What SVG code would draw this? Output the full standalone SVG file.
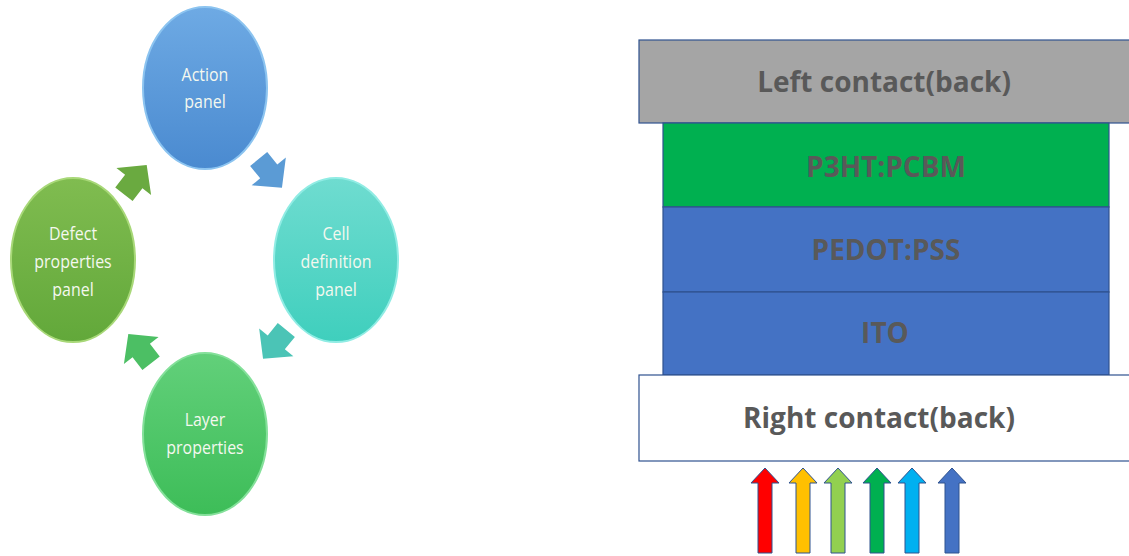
<svg xmlns="http://www.w3.org/2000/svg" width="1129" height="556" viewBox="0 0 1129 556">
<defs>
<linearGradient id="gBlue" x1="0" y1="0" x2="0" y2="1"><stop offset="0" stop-color="#6eaae4"/><stop offset="1" stop-color="#4a8ad0"/></linearGradient>
<linearGradient id="gTeal" x1="0" y1="0" x2="0" y2="1"><stop offset="0" stop-color="#6fdcd0"/><stop offset="1" stop-color="#3fcfbd"/></linearGradient>
<linearGradient id="gLime" x1="0" y1="0" x2="0" y2="1"><stop offset="0" stop-color="#80bc50"/><stop offset="1" stop-color="#62a83a"/></linearGradient>
<linearGradient id="gGreen" x1="0" y1="0" x2="0" y2="1"><stop offset="0" stop-color="#62d07a"/><stop offset="1" stop-color="#3dbd58"/></linearGradient>
<path id="blk" d="M-18,-11 L-2,-11 L-2,-22 L19,0 L-2,22 L-2,11 L-18,11 Z"/>
<path id="up" d="M0,0 L14,15 L7,15 L7,85 L-7,85 L-7,15 L-14,15 Z"/>
</defs>
<style>
.ct{font-family:"Open Sans","Liberation Sans",sans-serif;font-size:19px;fill:#f4f8ef;text-anchor:middle}
.lt{font-family:"Open Sans","Liberation Sans",sans-serif;font-size:28px;font-weight:bold;fill:#595959;text-anchor:middle}
.lay{stroke:#2f528f;stroke-width:1.2}
.ray{stroke:#2f528f;stroke-width:1}
</style>
<g id="node-action"><ellipse cx="205" cy="88" rx="62" ry="81" fill="url(#gBlue)" stroke="#8cc4f0" stroke-width="2"/><text class="ct" transform="translate(205,81) scale(0.84,1)">Action</text><text class="ct" transform="translate(205,108) scale(0.84,1)">panel</text></g>
<g id="node-cell"><ellipse cx="336" cy="260" rx="62" ry="82" fill="url(#gTeal)" stroke="#90ece4" stroke-width="2"/><text class="ct" transform="translate(336,240) scale(0.84,1)">Cell</text><text class="ct" transform="translate(336,268) scale(0.84,1)">definition</text><text class="ct" transform="translate(336,296) scale(0.84,1)">panel</text></g>
<g id="node-defect"><ellipse cx="73" cy="260" rx="62" ry="82" fill="url(#gLime)" stroke="#a8d878" stroke-width="2"/><text class="ct" transform="translate(73,240) scale(0.84,1)">Defect</text><text class="ct" transform="translate(73,268) scale(0.84,1)">properties</text><text class="ct" transform="translate(73,296) scale(0.84,1)">panel</text></g>
<g id="node-layer"><ellipse cx="205" cy="434" rx="62" ry="81" fill="url(#gGreen)" stroke="#84e09a" stroke-width="2"/><text class="ct" transform="translate(205,426) scale(0.84,1)">Layer</text><text class="ct" transform="translate(205,454) scale(0.84,1)">properties</text></g>
<g id="connectors">
<use href="#blk" transform="translate(270,173) rotate(51)" fill="#5b9bd5"/>
<use href="#blk" transform="translate(275,344) rotate(129)" fill="#4bc4b6"/>
<use href="#blk" transform="translate(140,349) rotate(-128)" fill="#4cbf64"/>
<use href="#blk" transform="translate(135,180) rotate(-52)" fill="#6aaa40"/>
</g>
<g id="stack">
<rect class="lay" x="639" y="40" width="495" height="83" fill="#a5a5a5"/>
<text class="lt" x="884" y="92">Left contact(back)</text>
<rect class="lay" x="663" y="123" width="446" height="84" fill="#00b050"/>
<text class="lt" x="886" y="177">P3HT:PCBM</text>
<rect class="lay" x="663" y="207" width="446" height="85" fill="#4472c4"/>
<text class="lt" x="886" y="260">PEDOT:PSS</text>
<rect class="lay" x="663" y="292" width="446" height="83" fill="#4472c4"/>
<text class="lt" x="885" y="343">ITO</text>
<rect class="lay" x="639" y="375" width="495" height="86" fill="#ffffff"/>
<text class="lt" x="879" y="428">Right contact(back)</text>
</g>
<g id="rays">
<use href="#up" class="ray" transform="translate(765,468)" fill="#ff0000"/>
<use href="#up" class="ray" transform="translate(803,468)" fill="#ffc000"/>
<use href="#up" class="ray" transform="translate(838,468)" fill="#92d050"/>
<use href="#up" class="ray" transform="translate(877,468)" fill="#00b050"/>
<use href="#up" class="ray" transform="translate(912,468)" fill="#00b0f0"/>
<use href="#up" class="ray" transform="translate(952,468)" fill="#4472c4"/>
</g>
</svg>
